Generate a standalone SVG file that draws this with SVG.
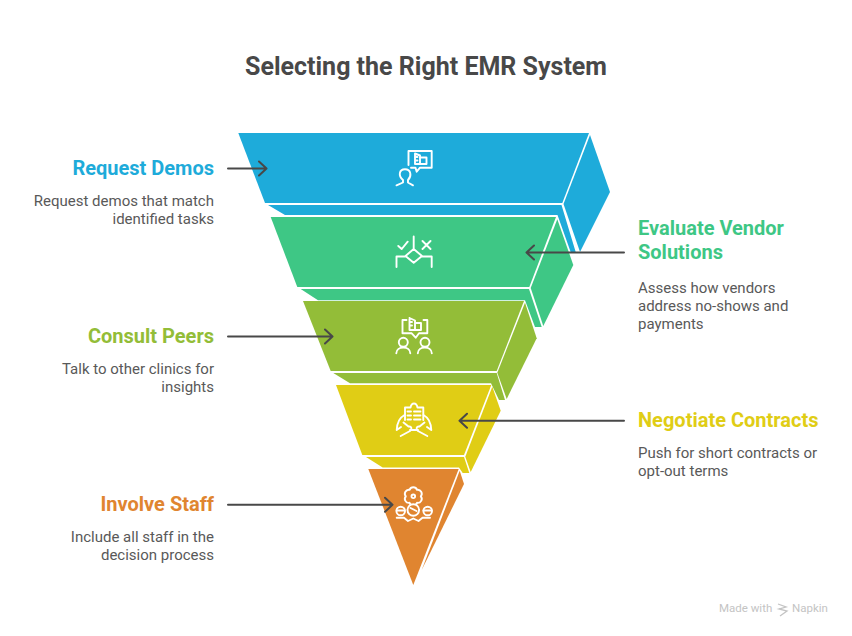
<svg xmlns="http://www.w3.org/2000/svg" width="852" height="636" viewBox="0 0 852 636">
<style>
text{font-family:Roboto,"Liberation Sans",sans-serif}
.t{font-size:25px;font-weight:700;fill:#484848}
.h{font-size:20px;font-weight:700}
.d{font-size:15px;fill:#595959}
.e{text-anchor:end}
.i{fill:none;stroke:#fff;stroke-width:1.900;stroke-linecap:round;stroke-linejoin:round}
.c{fill:none;stroke:#484848;stroke-width:2;stroke-linecap:round;stroke-linejoin:round}
</style>
<rect width="852" height="636" fill="#fff"/>
<text class="t" x="426" y="75" text-anchor="middle">Selecting the Right EMR System</text>
<g id="node-request-demos">
<path fill="#1eabda" d="M238.300 133H589L562.300 203H265Z"/>
<path fill="#1eabda" d="M590 135L610 192L580 252L563.500 204Z"/>
<path fill="#1eabda" d="M268 205H561.500L576 253H571L557.500 215H285Z"/>
<path class="i" d="M408.500 165V151H431.700V167.700H420L416.700 171.700L415.500 167.700H411"/>
<path class="i" d="M415 153.500V164M415 153.500L420 155.500V164H415M415 157H417.500M415 160.500H417.500M420 157.500H426.500V164H420"/>
<path class="i" d="M396.500 185.300L403 182.500V180C398 176 399 169.300 405 169.300C411 169.300 412 176 408 180V182.500L413 185.300"/>
<text class="h e" x="214" y="175" fill="#1eabda">Request Demos</text>
<text class="d e" x="214" y="206">Request demos that match</text>
<text class="d e" x="214" y="224">identified tasks</text>
</g>
<g id="node-evaluate-vendor">
<path fill="#3ec785" d="M270.700 217H556L529.300 287H297.300Z"/>
<path fill="#3ec785" d="M557.300 219.300L573.300 265L543.300 326L530.700 288Z"/>
<path fill="#3ec785" d="M300.700 289H529L541.700 327H535L525 300.300H318Z"/>
<path class="i" d="M413.700 236.500V249M413.700 249L405.500 256L413.700 262.800L422 256ZM396.500 267V256.500H405.500M431.700 267V256.500H422M398.300 246L401.700 249L407.700 241.700M422.500 241L430.500 249M430.500 241L422.500 249"/>
<text class="h" x="638" y="235" fill="#3ec785">Evaluate Vendor</text>
<text class="h" x="638" y="259" fill="#3ec785">Solutions</text>
<text class="d" x="638" y="293">Assess how vendors</text>
<text class="d" x="638" y="311">address no-shows and</text>
<text class="d" x="638" y="329">payments</text>
</g>
<g id="node-consult-peers">
<path fill="#93bd38" d="M303 301H524L496.700 371H330.700Z"/>
<path fill="#93bd38" d="M525 302.700L536.700 338.300L506.700 399L497.300 372.700Z"/>
<path fill="#93bd38" d="M333.300 373H496.700L505 400H499L491 383.300H350Z"/>
<path class="i" d="M406.500 320H402.500V333.300H411.700L415.700 337.700L419 333.300H427.300V320H423.500"/>
<path class="i" d="M409.500 318V330M409.500 318L415 320.500V330H409.500M409.500 322H412M409.500 325.500H412M415 323H421V330H415"/>
<circle class="i" cx="403.300" cy="342.300" r="4.500"/>
<circle class="i" cx="425" cy="342.300" r="4.500"/>
<path class="i" d="M396.300 353.300C396.300 345.500 410.300 345.500 410.300 353.300M417.800 353.300C417.800 345.500 431.800 345.500 431.800 353.300"/>
<text class="h e" x="214" y="343" fill="#93bd38">Consult Peers</text>
<text class="d e" x="214" y="374">Talk to other clinics for</text>
<text class="d e" x="214" y="392">insights</text>
</g>
<g id="node-negotiate-contracts">
<path fill="#e0cd15" d="M336 385H491.300L464 455H362.300Z"/>
<path fill="#e0cd15" d="M492.300 386.700L500.700 410.700L470.700 472L465.300 456.700Z"/>
<path fill="#e0cd15" d="M366 457H464L469.300 473H462.700L459 467.500H382.700Z"/>
<path class="i" d="M405 420V407.500H410.500C411 405 412 403.500 414 403.500C416 403.500 417 405 417.500 407.500H423.300V420M410 430H418M407.500 411.500H411M414 411.500H420.500M407.500 415.500H411M414 415.500H420.500M407.500 419.500H411M414 419.500H420.500"/>
<path class="i" d="M404.500 415C399 418 397 423 396.700 430M396.700 430L401 427M400.700 436L410 431C412.500 429 411.500 426 408.500 426.500L403.500 422.500M423.500 415C429 418 431 423 431.300 430M431.300 430L427 427M427.300 436L418 431C415.500 429 416.500 426 419.500 426.500L424.500 422.500"/>
<text class="h" x="638" y="427" fill="#e0cd15">Negotiate Contracts</text>
<text class="d" x="638" y="458">Push for short contracts or</text>
<text class="d" x="638" y="476">opt-out terms</text>
</g>
<g id="node-involve-staff">
<path fill="#e08530" d="M368.300 469H458.700L413.300 585Z"/>
<path fill="#e08530" d="M459.700 470.700L464 484L421.700 570Z"/>
<path class="i" d="M409.550 489.800A4 4 0 0 1 417.050 489.800A4 4 0 0 1 420.800 496.300A4 4 0 0 1 417.050 502.800A4 4 0 0 1 409.550 502.800A4 4 0 0 1 405.800 496.300A4 4 0 0 1 409.550 489.800Z"/>
<circle class="i" cx="413.300" cy="496.300" r="1.800"/>
<circle fill="#e08530" class="i" style="fill:#e08530" cx="413.300" cy="510" r="5.800"/>
<circle class="i" style="fill:#e08530" cx="400.700" cy="511" r="4.300"/>
<circle class="i" style="fill:#e08530" cx="427.700" cy="511" r="4.300"/>
<path class="i" d="M396.700 517.700H404L408 521L413.300 518.500L418.500 521L422.500 517.700H430M396.700 510.500H404.500M423.500 510.500H431.500M410.500 508L416.500 511"/>
<text class="h e" x="214" y="511" fill="#e08530">Involve Staff</text>
<text class="d e" x="214" y="542">Include all staff in the</text>
<text class="d e" x="214" y="560">decision process</text>
</g>
<g id="connectors">
<path class="c" d="M228 168.500H266M259 161.500L266.500 168.500L259 175.500"/>
<path class="c" d="M624 252.500H527M534 245.500L526.500 252.500L534 259.500"/>
<path class="c" d="M228 336.500H332M325 329.500L332.500 336.500L325 343.500"/>
<path class="c" d="M624 420.800H460M467 413.800L459.500 420.800L467 427.800"/>
<path class="c" d="M228 504.800H392M385 497.800L392.500 504.800L385 511.800"/>
</g>
<g id="watermark">
<text x="719" y="612" font-size="11.500" fill="#c4c4c4">Made with</text>
<path fill="none" stroke="#c4c4c4" stroke-width="1.300" d="M778 604L786 607L779 609L787 611L780 616"/>
<text x="792" y="612" font-size="11.500" fill="#c4c4c4">Napkin</text>
</g>
</svg>
